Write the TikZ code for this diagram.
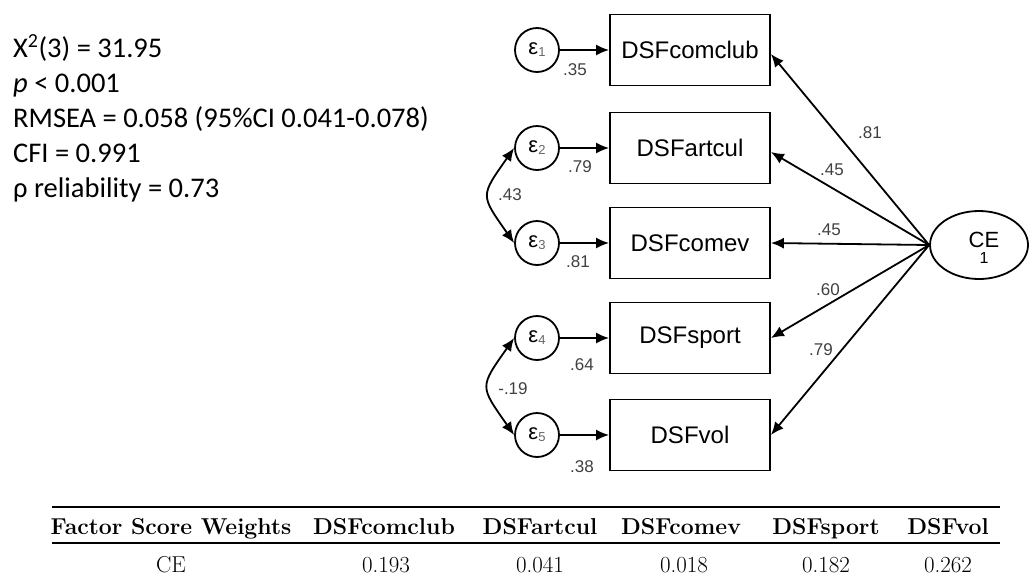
\documentclass[tikz,border=0pt]{standalone}
\usepackage{fontspec}
\newfontfamily\arialfont{Liberation Sans}
\newfontfamily\calibrifont{Carlito}
\usetikzlibrary{shapes.geometric,arrows.meta,positioning}
\newcommand{\errsub}[1]{\raisebox{-2pt}{\fontsize{13}{13}\selectfont\color{black!60}#1}}

\begin{document}
\begin{tikzpicture}[
    x=1pt, y=-1pt,
    obsbox/.style={draw, line width=1.8pt, minimum width=160pt, minimum height=71pt, inner sep=0pt, font=\arialfont\fontsize{24}{24}\selectfont},
    errnode/.style={draw, circle, line width=1.8pt, minimum size=44pt, inner sep=0pt, font=\arialfont\fontsize{22}{22}\selectfont},
    latent/.style={draw, ellipse, line width=1.8pt, minimum width=98pt, minimum height=68pt, inner sep=0pt},
    arrow/.style={-{Latex[length=13pt,width=11pt]}, line width=1.8pt},
    twoway/.style={{Latex[length=13pt,width=11pt]}-{Latex[length=13pt,width=11pt]}, line width=1.8pt},
    coef/.style={font=\arialfont\fontsize{17}{17}\selectfont, text=black!75, inner sep=0pt},
    stat/.style={font=\calibrifont\fontsize{28.5}{34}\selectfont, anchor=base west, inner sep=0pt},
    thead/.style={font=\bfseries\fontsize{23}{23}\selectfont, anchor=base, inner sep=0pt},
    tcell/.style={font=\fontsize{23}{23}\selectfont, anchor=base, inner sep=0pt}
]
  \useasboundingbox (0,0) rectangle (1030,579);

  % =========================================================================
  % AJUSTE DO MODELO
  % =========================================================================
  \node[stat] (s_chi)  at (13,57)  {X\textsuperscript{2}(3) = 31.95};
  \node[stat] (s_p)    at (13,92)  {\textit{p} < 0.001};
  \node[stat] (s_rmse) at (13,127) {RMSEA = 0.058 (95\%CI 0.041-0.078)};
  \node[stat] (s_cfi)  at (13,162) {CFI = 0.991};
  \node[stat] (s_rho)  at (13,197) {ρ reliability = 0.73};

  % =========================================================================
  % MODELO DE MEDIDA
  % =========================================================================
  % Indicadores
  \node[obsbox] (b_comclub) at (690,50)  {DSFcomclub};
  \node[obsbox] (b_artcul)  at (690,148) {DSFartcul};
  \node[obsbox] (b_comev)   at (690,243) {DSFcomev};
  \node[obsbox] (b_sport)   at (690,338) {DSFsport};
  \node[obsbox] (b_vol)     at (690,435) {DSFvol};

  % Erros
  \node[errnode] (e1) at (537,50)  {ε\errsub{1}};
  \node[errnode] (e2) at (537,148) {ε\errsub{2}};
  \node[errnode] (e3) at (537,243) {ε\errsub{3}};
  \node[errnode] (e4) at (537,338) {ε\errsub{4}};
  \node[errnode] (e5) at (537,435) {ε\errsub{5}};

  \draw[arrow] (e1) -- (b_comclub);
  \draw[arrow] (e2) -- (b_artcul);
  \draw[arrow] (e3) -- (b_comev);
  \draw[arrow] (e4) -- (b_sport);
  \draw[arrow] (e5) -- (b_vol);

  \node[coef] (k_e1) at (575,70)  {.35};
  \node[coef] (k_e2) at (580,167) {.79};
  \node[coef] (k_e3) at (578,262) {.81};
  \node[coef] (k_e4) at (582,365) {.64};
  \node[coef] (k_e5) at (582,467) {.38};

  % Covariancias
  \draw[twoway] (e2.west) to[out=235, in=125, looseness=1.6] (e3.west);
  \draw[twoway] (e4.west) to[out=235, in=125, looseness=1.6] (e5.west);
  \node[coef] (k_c23) at (510,195) {.43};
  \node[coef] (k_c45) at (513,389) {-.19};

  % Fator latente
  \node[latent] (n_ce) at (979,245) {};
  \node[font=\arialfont\fontsize{22}{22}\selectfont, inner sep=0pt] (ce_name) at (984,240) {CE};
  \node[font=\arialfont\fontsize{16}{16}\selectfont, inner sep=0pt] (ce_var) at (984,258) {1};

  \draw[arrow] (n_ce.west) -- ([yshift=-4pt]b_comclub.east);
  \draw[arrow] (n_ce.west) -- ([yshift=-4pt]b_artcul.east);
  \draw[arrow] (n_ce.west) -- (b_comev.east);
  \draw[arrow] (n_ce.west) -- (b_sport.east);
  \draw[arrow] (n_ce.west) -- (b_vol.east);

  \node[coef] (k_l1) at (870,133) {.81};
  \node[coef] (k_l2) at (832,170) {.45};
  \node[coef] (k_l3) at (829,230) {.45};
  \node[coef] (k_l4) at (828,290) {.60};
  \node[coef] (k_l5) at (821,350) {.79};

  % =========================================================================
  % TABELA DE PESOS
  % =========================================================================
  \draw[line width=2.5pt] (52,507) -- (1000,507);
  \draw[line width=1.4pt] (52,543) -- (1000,543);

  \node[thead] (h_fsw)     at (171,534.5) {Factor Score Weights};
  \node[thead] (h_comclub) at (384,534.5) {DSFcomclub};
  \node[thead] (h_artcul)  at (540,534.5) {DSFartcul};
  \node[thead] (h_comev)   at (681,534.5) {DSFcomev};
  \node[thead] (h_sport)   at (826,534.5) {DSFsport};
  \node[thead] (h_vol)     at (948,534.5) {DSFvol};

  \node[tcell] (r_ce)      at (171,572) {CE};
  \node[tcell] (r_comclub) at (386,572) {0.193};
  \node[tcell] (r_artcul)  at (540,572) {0.041};
  \node[tcell] (r_comev)   at (684,572) {0.018};
  \node[tcell] (r_sport)   at (826,572) {0.182};
  \node[tcell] (r_vol)     at (948,572) {0.262};

\end{tikzpicture}
\end{document}
